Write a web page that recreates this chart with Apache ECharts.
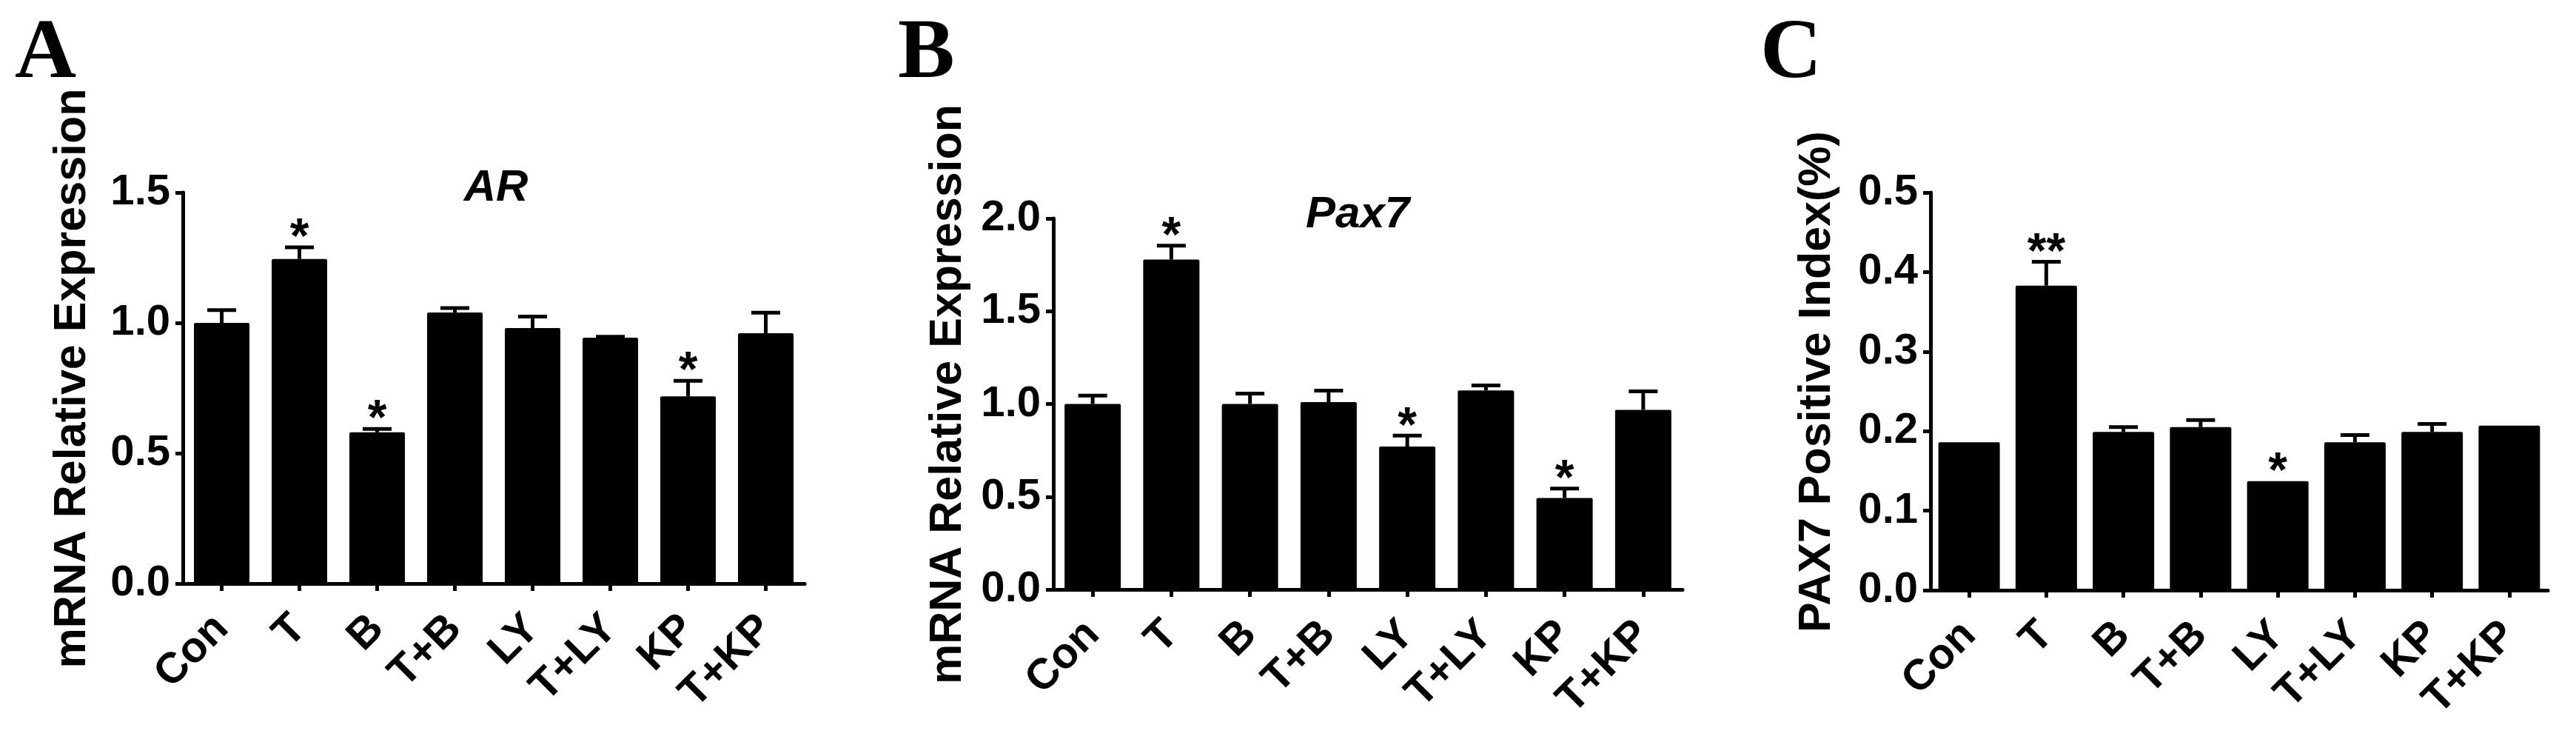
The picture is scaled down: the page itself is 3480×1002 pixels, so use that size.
<!DOCTYPE html>
<html>
<head>
<meta charset="utf-8">
<script src="https://cdn.jsdelivr.net/npm/echarts@6/dist/echarts.min.js"></script>
<style>
  html, body { margin: 0; padding: 0; background: #fff; }
  #chart { width: 3480px; height: 1002px; }
</style>
</head>
<body>
<div id="chart"></div>
<script>
// ---- data ----
const categories = ['Con', 'T', 'B', 'T+B', 'LY', 'T+LY', 'KP', 'T+KP'];

const arMean = [1.00, 1.245, 0.58, 1.04, 0.98, 0.943, 0.718, 0.96];
const arErr  = [0.049, 0.045, 0.013, 0.017, 0.044, 0.004, 0.06, 0.079];
const arSig  = ['', '*', '*', '', '', '', '*', ''];
const arTicks = [0, 0.5, 1.0, 1.5];

const pax7Mean = [1.00, 1.778, 1.00, 1.01, 0.77, 1.073, 0.493, 0.968];
const pax7Err  = [0.045, 0.075, 0.056, 0.062, 0.059, 0.027, 0.051, 0.10];
const pax7Sig  = ['', '*', '', '', '*', '', '*', ''];
const pax7Ticks = [0, 0.5, 1.0, 1.5, 2.0];

const idxMean = [0.186, 0.383, 0.199, 0.205, 0.137, 0.186, 0.199, 0.207];
const idxErr  = [0, 0.030, 0.006, 0.009, 0, 0.009, 0.010, 0];
const idxSig  = ['', '**', '', '', '*', '', '', ''];
const idxTicks = [0, 0.1, 0.2, 0.3, 0.4, 0.5];

const panelLetters = ['A', 'B', 'C'];
const geneTitles = ['AR', 'Pax7', ''];
const yNames = ['mRNA Relative Expression', 'mRNA Relative Expression', 'PAX7 Positive Index(%)'];

// ---- styling / layout ----
const SANS = '"Liberation Sans", Arial, sans-serif';
const SERIF = '"Liberation Serif", "Times New Roman", serif';

const panels = [
  { mean: arMean, err: arErr, sig: arSig, ticks: arTicks, grid: { left: 247, top: 260, width: 840, height: 528 }, barWidth: 75, nameGap: 118, titleX: 670, titleY: 254, letterX: 20 },
  { mean: pax7Mean, err: pax7Err, sig: pax7Sig, ticks: pax7Ticks, grid: { left: 1423, top: 295, width: 850, height: 501 }, barWidth: 76, nameGap: 111, titleX: 1834, titleY: 290, letterX: 1213 },
  { mean: idxMean, err: idxErr, sig: idxSig, ticks: idxTicks, grid: { left: 2608, top: 260, width: 834, height: 537 }, barWidth: 83, nameGap: 122, titleX: 0, titleY: 0, letterX: 2378 }
];

const grids = [], xAxes = [], yAxes = [], series = [], graphics = [];

panels.forEach((p, k) => {
  grids.push(Object.assign({ containLabel: false }, p.grid));
  const step = p.ticks[1] - p.ticks[0];
  xAxes.push({
    type: 'category', gridIndex: k, data: categories, boundaryGap: true,
    axisLine: { lineStyle: { color: '#000', width: 5 } },
    axisTick: { show: true, alignWithLabel: true, length: 10, lineStyle: { color: '#000', width: 5 } },
    axisLabel: { interval: 0, rotate: 45, margin: 52, color: '#000', fontFamily: SANS, fontWeight: 'bold', fontSize: 58 },
    splitLine: { show: false }
  });
  yAxes.push({
    type: 'value', gridIndex: k, min: p.ticks[0], max: p.ticks[p.ticks.length - 1], interval: step,
    name: yNames[k], nameLocation: 'middle', nameGap: p.nameGap,
    nameTextStyle: { color: '#000', fontFamily: SANS, fontWeight: 'bold', fontSize: 61, padding: [0, 0, 0, 26] },
    axisLine: { show: true, lineStyle: { color: '#000', width: 5 } },
    axisTick: { show: true, length: 10, lineStyle: { color: '#000', width: 5 } },
    axisLabel: { margin: 17, color: '#000', fontFamily: SANS, fontWeight: 'bold', fontSize: 58,
      formatter: v => v.toFixed(1) },
    splitLine: { show: false }
  });
  series.push({
    type: 'bar', xAxisIndex: k, yAxisIndex: k, data: p.mean, barWidth: p.barWidth,
    itemStyle: { color: '#000', borderRadius: 2 }, silent: true, animation: false
  });
  const mean = p.mean, err = p.err, sig = p.sig;
  series.push({
    type: 'custom', xAxisIndex: k, yAxisIndex: k, animation: false, silent: true, z: 5,
    data: mean.map((m, i) => [i, m, err[i]]),
    renderItem: function (params, api) {
      const i = api.value(0), m = api.value(1), e = api.value(2);
      const base = api.coord([i, m]);
      const top = api.coord([i, m + e]);
      const children = [];
      if (e > 0) {
        children.push({ type: 'line', shape: { x1: base[0], y1: base[1], x2: top[0], y2: top[1] },
          style: { stroke: '#000', lineWidth: 5 } });
        children.push({ type: 'line', shape: { x1: top[0] - 19.5, y1: top[1], x2: top[0] + 19.5, y2: top[1] },
          style: { stroke: '#000', lineWidth: 5 } });
      }
      const s = sig[params.dataIndex];
      if (s) {
        children.push({ type: 'text', x: top[0], y: top[1] - 11,
          style: { text: s, font: 'bold 66px ' + SANS, fill: '#000', align: 'center', verticalAlign: 'middle' } });
      }
      return { type: 'group', children: children };
    }
  });
  graphics.push({ type: 'text', x: p.letterX, y: 74,
    style: { text: panelLetters[k], font: 'bold 115px ' + SERIF, fill: '#000', align: 'left', verticalAlign: 'middle' } });
  if (geneTitles[k]) {
    graphics.push({ type: 'text', x: p.titleX, y: p.titleY,
      style: { text: geneTitles[k], font: 'italic bold 60px ' + SANS, fill: '#000', align: 'center', verticalAlign: 'middle' } });
  }
});

const chart = echarts.init(document.getElementById('chart'), null, { renderer: 'canvas' });
chart.setOption({
  backgroundColor: '#fff',
  animation: false,
  grid: grids,
  xAxis: xAxes,
  yAxis: yAxes,
  series: series,
  graphic: graphics
});
</script>
</body>
</html>
